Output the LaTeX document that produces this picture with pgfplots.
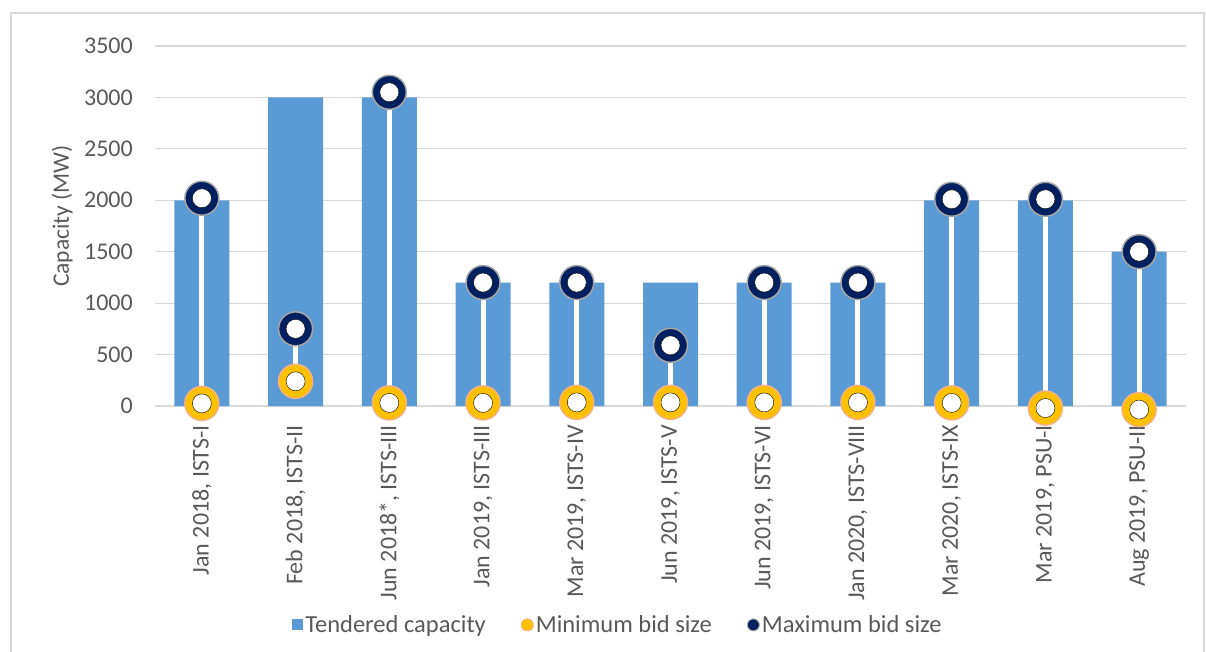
\documentclass[border=0pt]{standalone}
\usepackage{fontspec}
\setmainfont{Carlito}
\usepackage{pgfplots}
\usepackage{pgfplotstable}
\pgfplotsset{compat=1.18}

\definecolor{barblue}{HTML}{5B9BD5}
\definecolor{minorange}{HTML}{FFC000}
\definecolor{minedge}{HTML}{F4B183}
\definecolor{maxnavy}{HTML}{002060}
\definecolor{maxedge}{HTML}{A6A6A6}
\definecolor{txt}{HTML}{595959}
\definecolor{gridgray}{HTML}{D9D9D9}

% tendered capacity and bid-size limits per auction (MW)
\pgfplotstableread{
idx cap min max
0  2000  25  2020
1  3000 240   750
2  3000  30  3050
3  1200  30  1200
4  1200  35  1200
5  1200  35   590
6  1200  35  1200
7  1200  35  1200
8  2000  30  2010
9  2000 -20  2010
10 1500 -35  1500
}\auctions

\begin{document}
\begin{tikzpicture}
\useasboundingbox (0pt,0pt) rectangle (1206pt,651pt);
\draw[gridgray, line width=1.5pt] (11pt,-10pt) -- (11pt,638pt) -- (1204pt,638pt) -- (1204pt,-10pt);
\begin{axis}[
  at={(155pt,245pt)}, anchor=south west,
  scale only axis, width=1031pt, height=360pt,
  xmin=-0.5, xmax=10.5, ymin=0, ymax=3500,
  clip=false,
  axis line style={draw=none},
  major tick length=0pt,
  ymajorgrids, grid style={gridgray, line width=1.2pt},
  ytick={0,500,...,3500},
  xtick={0,...,10},
  xticklabels={{Jan 2018, ISTS-I},{Feb 2018, ISTS-II},{Jun 2018*, ISTS-III},{Jan 2019, ISTS-III},{Mar 2019, ISTS-IV},{Jun 2019, ISTS-V},{Jun 2019, ISTS-VI},{Jan 2020, ISTS-VIII},{Mar 2020, ISTS-IX},{Mar 2019, PSU-I},{Aug 2019, PSU-II}},
  /pgf/number format/assume math mode=true,
  /pgf/number format/1000 sep={},
  tick label style={font=\fontsize{24}{28}\selectfont, text=txt},
  yticklabel style={anchor=east, inner sep=0pt},
  yticklabel shift=22pt,
  xticklabel style={rotate=90, anchor=east, inner sep=0pt},
  xticklabel shift=19pt,
  ylabel={Capacity (MW)},
  ylabel style={font=\fontsize{23.5}{27}\selectfont, text=txt, at={(axis description cs:-0.090,0.528)}, anchor=center},
  legend style={at={(axis description cs:0.449,-0.608)}, anchor=center, draw=none, fill=none,
    font=\fontsize{24.5}{28}\selectfont, text=txt,
    /tikz/every even column/.append style={column sep=33pt}},
  legend columns=-1,
  legend cell align=left,
]
% tendered capacity bars
\addplot[ybar, bar width=55pt, fill=barblue, draw=none,
  legend image code/.code={\fill[barblue] (0pt,-5.5pt) rectangle (11pt,5.5pt);}]
  table[x=idx, y=cap] {\auctions};
\addlegendentry{Tendered capacity}
% minimum bid size
\addplot[only marks, mark=*, mark size=17pt, mark options={fill=minorange, draw=minedge, line width=1.5pt},
  legend image code/.code={\draw[fill=minorange, draw=minedge, line width=1pt] (5.5pt,0pt) circle (6pt);}]
  table[x=idx, y=min] {\auctions};
\addlegendentry{Minimum bid size}
% maximum bid size
\addplot[only marks, mark=*, mark size=17pt, mark options={fill=maxnavy, draw=maxedge, line width=1.5pt},
  legend image code/.code={\draw[fill=maxnavy, draw=maxedge, line width=1pt] (5.5pt,0pt) circle (6pt);}]
  table[x=idx, y=max] {\auctions};
\addlegendentry{Maximum bid size}
% range connector
\addplot[forget plot, only marks, mark=none,
  error bars/.cd, y dir=plus, y explicit, error mark=none,
  error bar style={white, line width=5pt}]
  table[x=idx, y=min, y error expr=\thisrow{max}-\thisrow{min}] {\auctions};
% white end dots
\addplot[forget plot, only marks, mark=*, mark size=9.5pt, mark options={fill=white, draw=none}]
  table[x=idx, y=min] {\auctions};
\addplot[forget plot, only marks, mark=*, mark size=9.5pt, mark options={fill=white, draw=none}]
  table[x=idx, y=max] {\auctions};
\end{axis}
\end{tikzpicture}
\end{document}
